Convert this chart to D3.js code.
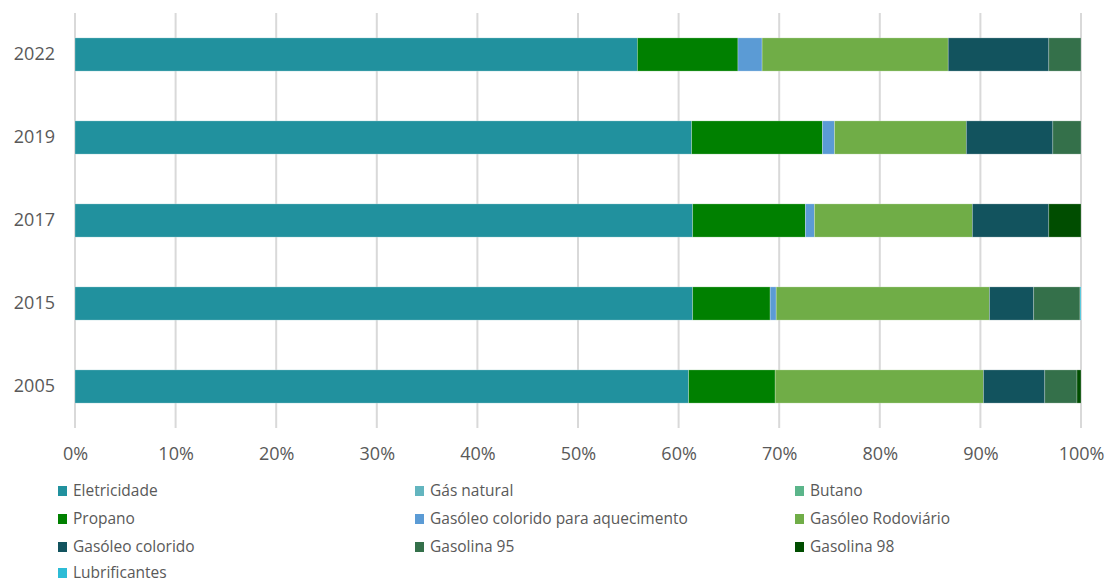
<!DOCTYPE html>
<html>
<head>
<meta charset="utf-8">
<script src="https://cdn.jsdelivr.net/npm/d3@7"></script>
<style>
  body { margin: 0; background: #fff; }
  svg text { font-family: "Open Sans", sans-serif; fill: #595959; }
</style>
</head>
<body>
<div id="vis"></div>
<script>
const years = ["2022", "2019", "2017", "2015", "2005"];
const fuels = ["Eletricidade", "Gás natural", "Butano", "Propano",
        "Gasóleo colorido para aquecimento", "Gasóleo Rodoviário",
        "Gasóleo colorido", "Gasolina 95", "Gasolina 98", "Lubrificantes"];
const colors = ["#21919e", "#63b5bf", "#5bb58a", "#008000", "#5b9bd5",
        "#70ad47", "#12535e", "#34704a", "#004d00", "#2dbcd6"];

// shares (%) per year, same order as fuels
const v2022 = [55.9, 0, 0, 10.0, 2.4, 18.5, 10.0, 3.2, 0, 0];
const v2019 = [61.3, 0, 0, 13.0, 1.2, 13.1, 8.6, 2.8, 0, 0];
const v2017 = [61.4, 0, 0, 11.2, 0.9, 15.7, 7.6, 0, 3.2, 0];
const v2015 = [61.4, 0, 0, 7.7, 0.6, 21.2, 4.4, 4.6, 0, 0.1];
const v2005 = [61.0, 0, 0, 8.6, 0, 20.7, 6.1, 3.2, 0.4, 0];
const values = [v2022, v2019, v2017, v2015, v2005];

const xTicks = [0, 10, 20, 30, 40, 50, 60, 70, 80, 90, 100];

const width = 1107;
const height = 583;
const margin = {left: 75, right: 26, top: 13, bottom: 155};

const svg = d3.select("#vis").append("svg")
        .attr("width", width)
        .attr("height", height);

const x = d3.scaleLinear()
        .domain([0, 100])
        .range([margin.left, width - margin.right]);

const y = d3.scaleBand()
        .domain(years)
        .range([margin.top, height - margin.bottom])
        .paddingInner(0.6)
        .paddingOuter(0.3);

// grid
svg.append("g")
        .selectAll("line")
        .data(xTicks)
        .join("line")
        .attr("x1", d => x(d))
        .attr("x2", d => x(d))
        .attr("y1", margin.top)
        .attr("y2", height - margin.bottom)
        .attr("stroke", "#d9d9d9")
        .attr("stroke-width", 2);

// stacked bars
const rows = years.map((yr, i) => {
  let acc = 0;
  return fuels.map((f, j) => {
    const s = {year: yr, fuel: j, x0: acc, x1: acc + values[i][j]};
    acc += values[i][j];
    return s;
  }).filter(d => d.x1 > d.x0);
});

svg.append("g")
        .selectAll("rect")
        .data(rows.flat())
        .join("rect")
        .attr("x", d => x(d.x0))
        .attr("width", d => x(d.x1) - x(d.x0))
        .attr("y", d => y(d.year))
        .attr("height", y.bandwidth())
        .attr("fill", d => colors[d.fuel])
        .attr("stroke", "#ffffff")
        .attr("stroke-opacity", 0.35)
        .attr("stroke-width", 0.7);

// axes
const xAxis = svg.append("g")
        .attr("transform", "translate(0," + (height - margin.bottom) + ")")
        .call(d3.axisBottom(x).tickValues(xTicks).tickFormat(d => d + "%").tickSize(0).tickPadding(19));
xAxis.select(".domain").remove();
xAxis.selectAll("text").attr("font-size", 18).attr("fill", "#595959");

const yAxis = svg.append("g")
        .attr("transform", "translate(" + (margin.left - 20) + ",0)")
        .call(d3.axisLeft(y).tickSize(0).tickPadding(0));
yAxis.select(".domain").remove();
yAxis.selectAll("text").attr("font-size", 18).attr("fill", "#595959");

// legend
const colX = [58, 415, 795];
const rowY = [491, 519, 547, 573];
const legend = svg.append("g")
        .selectAll("g")
        .data(fuels)
        .join("g")
        .attr("transform", (d, i) => "translate(" + colX[i % 3] + "," + rowY[Math.floor(i / 3)] + ")");

legend.append("rect")
        .attr("x", 0)
        .attr("y", -5)
        .attr("width", 9)
        .attr("height", 10)
        .attr("fill", (d, i) => colors[i]);

legend.append("text")
        .attr("x", 15)
        .attr("y", 0)
        .attr("dy", "0.33em")
        .attr("font-size", 15.5)
        .text(d => d);
</script>
</body>
</html>
